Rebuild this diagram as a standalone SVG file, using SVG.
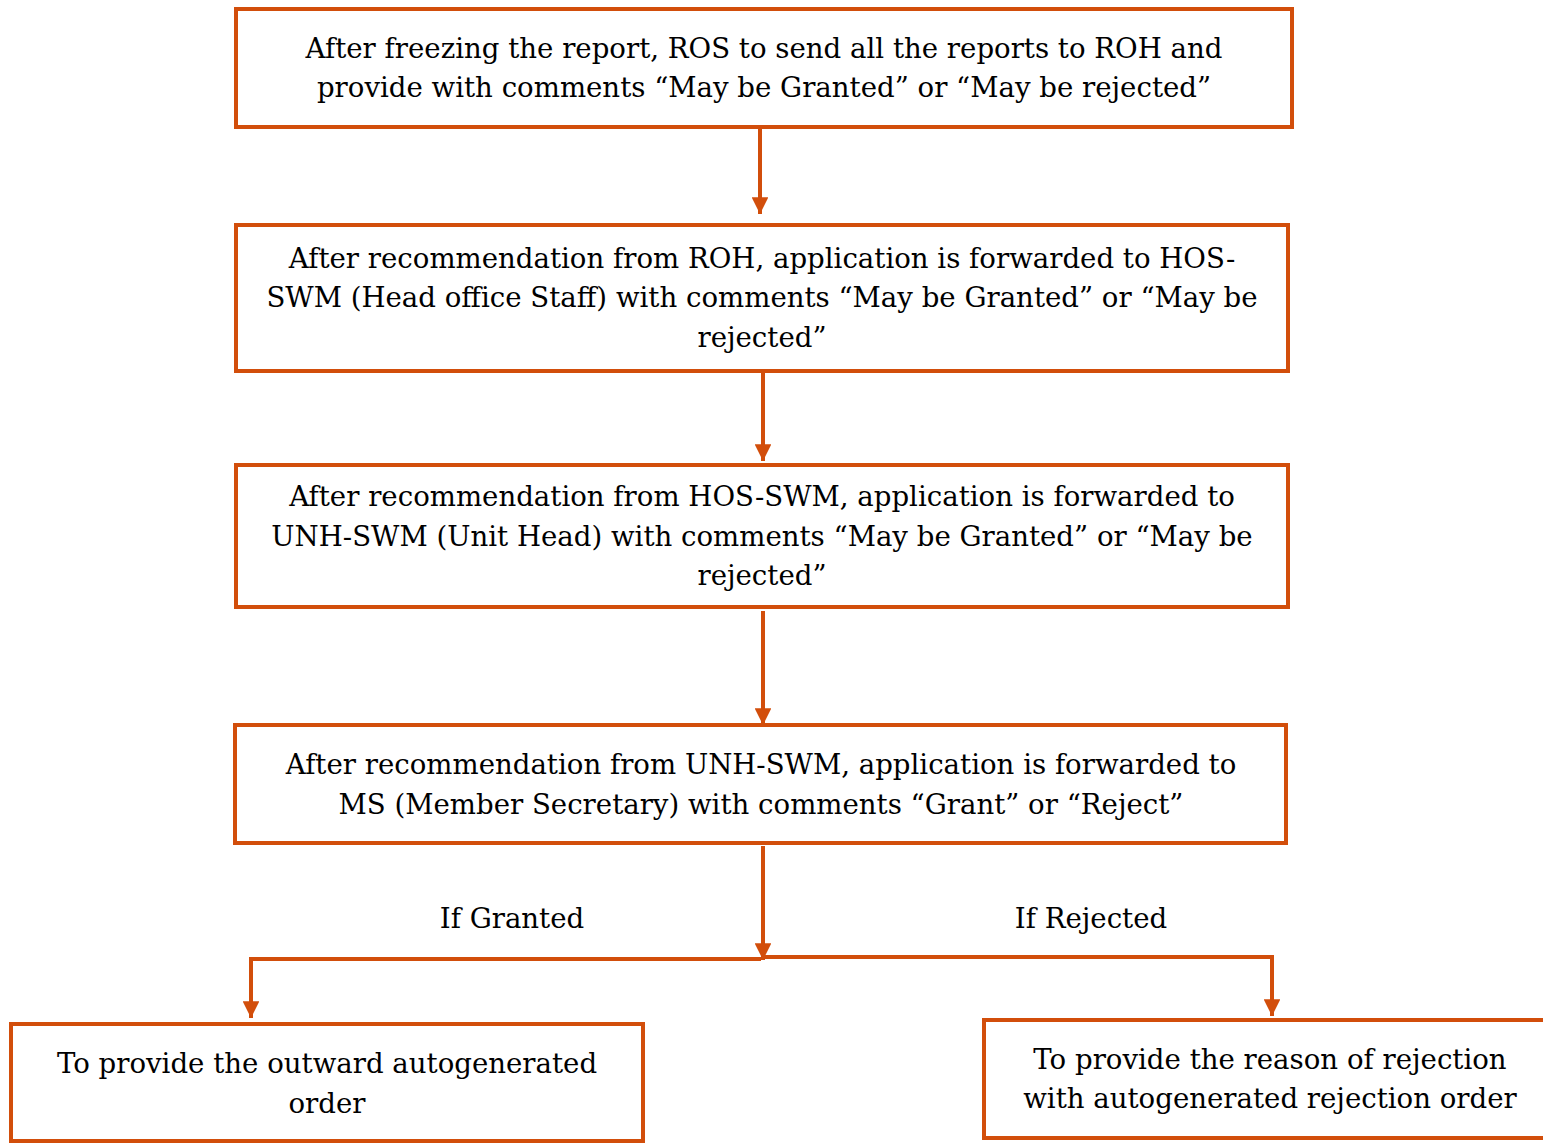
<svg xmlns="http://www.w3.org/2000/svg" width="1543" height="1144" viewBox="0 0 1543 1144">
<style>
.box{fill:#fff;stroke:#D24E0B;stroke-width:4}
.t{font-family:"DejaVu Serif","Liberation Serif",serif;font-size:27.6px;fill:#000;text-anchor:middle}
.c{fill:none;stroke:#D24E0B;stroke-width:4}
</style>
<defs>
<marker id="ah" viewBox="0 0 10 10" refX="10" refY="5" markerWidth="4.2" markerHeight="4.2" orient="auto" markerUnits="strokeWidth">
<path d="M0,0 L10,5 L0,10 z" fill="#D24E0B"/>
</marker>
</defs>
<rect width="1543" height="1144" fill="#fff"/>
<g id="connectors">
<line class="c" x1="760" y1="129" x2="760" y2="214" marker-end="url(#ah)"/>
<line class="c" x1="763" y1="373" x2="763" y2="461" marker-end="url(#ah)"/>
<line class="c" x1="763" y1="611" x2="763" y2="725" marker-end="url(#ah)"/>
<line class="c" x1="763" y1="846" x2="763" y2="960" marker-end="url(#ah)"/>
<polyline class="c" points="761,959 251,959 251,1018" marker-end="url(#ah)"/>
<polyline class="c" points="765,957 1272,957 1272,1016" marker-end="url(#ah)"/>
<text class="t" x="512" y="928">If Granted</text>
<text class="t" x="1091" y="928">If Rejected</text>
</g>
<g id="n1">
<rect class="box" x="236" y="9" width="1056" height="118"/>
<text class="t" x="764" y="58">After freezing the report, ROS to send all the reports to ROH and</text>
<text class="t" x="764" y="97">provide with comments “May be Granted” or “May be rejected”</text>
</g>
<g id="n2">
<rect class="box" x="236" y="225" width="1052" height="146"/>
<text class="t" x="762" y="268">After recommendation from ROH, application is forwarded to HOS-</text>
<text class="t" x="762" y="307">SWM (Head office Staff) with comments “May be Granted” or “May be</text>
<text class="t" x="762" y="347">rejected”</text>
</g>
<g id="n3">
<rect class="box" x="236" y="465" width="1052" height="142"/>
<text class="t" x="762" y="506">After recommendation from HOS-SWM, application is forwarded to</text>
<text class="t" x="762" y="546">UNH-SWM (Unit Head) with comments “May be Granted” or “May be</text>
<text class="t" x="762" y="585">rejected”</text>
</g>
<g id="n4">
<rect class="box" x="235" y="725" width="1051" height="118"/>
<text class="t" x="761" y="774">After recommendation from UNH-SWM, application is forwarded to</text>
<text class="t" x="761" y="814">MS (Member Secretary) with comments “Grant” or “Reject”</text>
</g>
<g id="n5">
<rect class="box" x="11" y="1024" width="632" height="117"/>
<text class="t" x="327" y="1073">To provide the outward autogenerated</text>
<text class="t" x="327" y="1113">order</text>
</g>
<g id="n6">
<rect class="box" x="984" y="1020" width="600" height="118"/>
<text class="t" x="1270" y="1069">To provide the reason of rejection</text>
<text class="t" x="1270" y="1108">with autogenerated rejection order</text>
</g>
</svg>
